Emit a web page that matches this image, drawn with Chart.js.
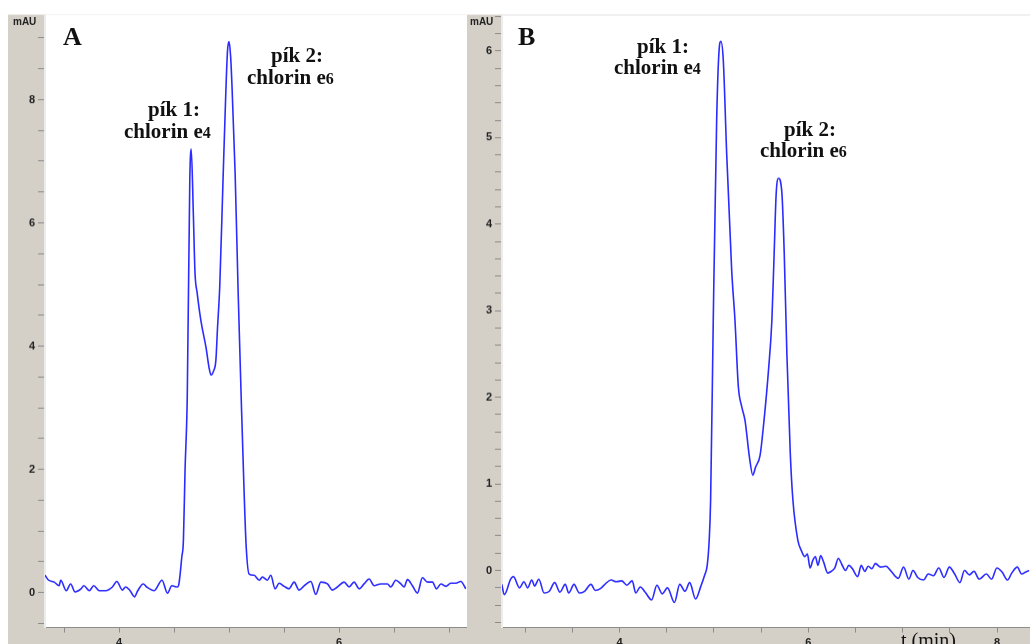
<!DOCTYPE html>
<html lang="cs">
<head>
  <meta charset="UTF-8" />
  <title>Chlorin e4 / e6 – chromatogramy</title>
  <script src="https://cdn.jsdelivr.net/npm/chart.js"></script>
  <style>
    body {
      margin: 0;
      background: #fff;
      width: 1030px;
      height: 644px;
      overflow: hidden;
      position: relative;
    }
    .panel { position: absolute; }
    .unit {
      position: absolute;
      font: bold 10px/10px "Liberation Sans", Arial, sans-serif;
      color: #222;
    }
    .letter {
      position: absolute;
      font: bold 26px/26px "Liberation Serif", serif;
      color: #111;
    }
    .note {
      position: absolute;
      font: bold 21px/22px "Liberation Serif", serif;
      color: #111;
      white-space: nowrap;
    }
    .note small { font-size: 16px; }
    .axis-title {
      position: absolute;
      font: 20px/20px "Liberation Serif", serif;
      color: #111;
      white-space: nowrap;
    }
  </style>
</head>
<body>
  <!-- panel A -->
  <div class="panel" id="wrapA" style="left:8px; top:15px; width:459px; height:629px;">
    <canvas id="chartA"></canvas>
  </div>
  <!-- panel B -->
  <div class="panel" id="wrapB" style="left:467px; top:15px; width:563px; height:629px;">
    <canvas id="chartB"></canvas>
  </div>

  <div class="unit" style="left:13px; top:17px;">mAU</div>
  <div class="unit" style="left:470px; top:17px;">mAU</div>

  <div class="letter" style="left:63px; top:24px;">A</div>
  <div class="letter" style="left:518px; top:24px;">B</div>

  <div class="note" style="left:148px; top:98px;">pík 1:</div>
  <div class="note" style="left:124px; top:120px;">chlorin e<small>4</small></div>
  <div class="note" style="left:271px; top:44px;">pík 2:</div>
  <div class="note" style="left:247px; top:66px;">chlorin e<small>6</small></div>

  <div class="note" style="left:637px; top:35px;">pík 1:</div>
  <div class="note" style="left:614px; top:56px;">chlorin e<small>4</small></div>
  <div class="note" style="left:784px; top:118px;">pík 2:</div>
  <div class="note" style="left:760px; top:139px;">chlorin e<small>6</small></div>

  <div class="axis-title" style="left:901px; top:630px;">t (min)</div>

<script>
  // Panel A: retention time (min) and absorbance (mAU)
  const timeA = [
    3.327, 3.36, 3.41, 3.455, 3.47, 3.52, 3.56, 3.6, 3.655, 3.68,
    3.73, 3.77, 3.82, 3.88, 3.94, 3.98, 4.03, 4.06, 4.1, 4.14,
    4.17, 4.22, 4.25, 4.32, 4.39, 4.44, 4.48, 4.53,
    4.545, 4.57, 4.585, 4.6, 4.62, 4.643, 4.656, 4.675, 4.69, 4.71,
    4.745, 4.79, 4.818, 4.836, 4.86, 4.88, 4.895, 4.915, 4.945, 4.97,
    4.986, 5.0, 5.014, 5.027, 5.055, 5.082, 5.11, 5.136, 5.155,
    5.182, 5.227, 5.273, 5.303, 5.348, 5.379, 5.418, 5.455, 5.5, 5.545,
    5.591, 5.636, 5.682, 5.743, 5.788, 5.834, 5.894, 5.939, 5.985, 6.045,
    6.091, 6.136, 6.182, 6.227, 6.273, 6.318, 6.379, 6.439, 6.47, 6.515,
    6.561, 6.591, 6.621, 6.666, 6.712, 6.757, 6.803, 6.848, 6.885, 6.925,
    6.97, 7.015, 7.061, 7.106, 7.152
  ];
  const signalA = [
    0.28, 0.20, 0.17, 0.11, 0.20, 0.03, 0.14, 0.01, 0.06, 0.11,
    0.03, 0.11, 0.03, 0.03, 0.09, 0.18, 0.04, 0.09, 0.03, -0.07,
    0.03, 0.14, 0.09, 0.03, 0.20, -0.01, 0.11, 0.09,
    0.15, 0.57, 0.85, 2.0, 3.18, 6.7, 7.2, 6.16, 5.2, 4.86,
    4.4, 3.98, 3.65, 3.53, 3.6, 3.77, 4.3, 4.96, 6.7, 8.1,
    8.8, 8.94, 8.7, 8.2, 6.8, 4.9, 3.17, 1.66, 0.76,
    0.30, 0.28, 0.20, 0.25, 0.20, 0.28, 0.06, 0.15, 0.10, 0.06,
    0.17, 0.04, 0.11, 0.18, -0.03, 0.17, 0.14, 0.04, 0.09, 0.17,
    0.09, 0.17, 0.06, 0.14, 0.22, 0.11, 0.14, 0.14, 0.09, 0.20,
    0.14, 0.09, 0.21, 0.11, -0.01, 0.24, 0.17, 0.17, 0.06, 0.14,
    0.10, 0.15, 0.15, 0.18, 0.06
  ];

  // Panel B
  const timeB = [
    2.753, 2.779, 2.847, 2.876, 2.94, 2.988, 3.026, 3.071, 3.1, 3.145,
    3.201, 3.257, 3.313, 3.369, 3.425, 3.462, 3.518, 3.574, 3.63, 3.698,
    3.742, 3.798, 3.854, 3.91, 3.966, 4.022, 4.078, 4.134, 4.172, 4.22,
    4.272, 4.34, 4.396, 4.452, 4.508, 4.582, 4.638, 4.694, 4.743, 4.806,
    4.862, 4.9, 4.929, 4.95,
    4.965, 4.993, 5.029, 5.053, 5.074, 5.099, 5.135, 5.188, 5.223, 5.259,
    5.295, 5.33, 5.376, 5.412, 5.44, 5.489, 5.524, 5.578, 5.614, 5.638,
    5.66, 5.684, 5.72, 5.745, 5.773, 5.809, 5.837,
    5.889, 5.926, 5.963, 5.99, 6.019, 6.049, 6.075, 6.102, 6.131, 6.161,
    6.206, 6.243, 6.281, 6.318, 6.355, 6.393, 6.43, 6.467, 6.523, 6.561,
    6.598, 6.635, 6.673, 6.71, 6.766, 6.822, 6.878, 6.953, 7.009, 7.065,
    7.109, 7.158, 7.221, 7.27, 7.326, 7.382, 7.438, 7.494, 7.55, 7.606,
    7.654, 7.707, 7.755, 7.811, 7.886, 7.942, 7.998, 8.054, 8.11, 8.155,
    8.214, 8.259, 8.315, 8.364
  ];
  const signalB = [
    -0.16, -0.28, -0.10, -0.07, -0.20, -0.13, -0.20, -0.11, -0.18, -0.10,
    -0.26, -0.24, -0.14, -0.25, -0.16, -0.26, -0.16, -0.26, -0.24, -0.16,
    -0.23, -0.21, -0.15, -0.11, -0.13, -0.12, -0.17, -0.12, -0.26, -0.19,
    -0.25, -0.34, -0.17, -0.27, -0.20, -0.37, -0.16, -0.24, -0.14, -0.33,
    -0.18, -0.06, 0.06, 0.35,
    0.81, 2.89, 5.2, 5.98, 6.11, 5.9, 4.82, 3.47, 2.89, 2.12,
    1.89, 1.73, 1.31, 1.10, 1.19, 1.33, 1.66, 2.31, 2.89, 3.66,
    4.36, 4.53, 4.36, 3.66, 2.5, 1.35, 0.81,
    0.35, 0.23, 0.16, 0.19, 0.03, 0.12, 0.16, 0.06, 0.17, 0.10,
    -0.03, -0.01, 0.03, 0.14, 0.07, 0.00, 0.06, 0.02, -0.07, 0.06,
    -0.01, 0.05, 0.02, 0.08, 0.04, 0.05, -0.01, -0.09, 0.04, -0.10,
    0.00, -0.08, -0.11, -0.04, -0.06, 0.03, -0.08, 0.04, -0.04, -0.14,
    0.00, -0.05, -0.01, -0.10, -0.04, -0.10, 0.03, -0.02, -0.11, -0.03,
    0.04, -0.04, -0.01, 0.00
  ];

  // Axis ranges and tick steps
  const xRangeA = [3.327, 7.155];
  const yRangeA = [-0.57, 9.38];
  const xRangeB = [2.755, 8.34];
  const yRangeB = [-0.66, 6.42];
  const xStep = 0.5, xLabelEvery = 2;
  const yStepA = 0.5, yLabelEveryA = 2;
  const yStepB = 0.2, yLabelEveryB = 1;

  const PLOT_TOP = 15;
  const PANEL_HEIGHT = 629;
  const tickFont = { family: '"Liberation Sans", Arial, sans-serif', size: 11, weight: 'bold' };

  // only every n-th unit gets a label, the other ticks stay bare
  function labelEvery(n) {
    return v => {
      const k = v / n;
      return Math.abs(k - Math.round(k)) < 1e-6 ? String(Math.round(v)) : '';
    };
  }

  // gray instrument frame + white plot area (runs to the canvas edge)
  const panelBg = {
    id: 'panelBg',
    beforeDraw(chart, args, opts) {
      const { ctx, chartArea: a, width, height } = chart;
      ctx.save();
      ctx.fillStyle = '#d4d0c8';
      ctx.fillRect(0, a.top, width, height - a.top);
      ctx.fillStyle = '#ffffff';
      ctx.fillRect(a.left, a.top, width - a.left, a.bottom - a.top);
      if (opts.topLine) {
        ctx.fillStyle = '#e8e8e8';
        ctx.fillRect(a.left, a.top, width - a.left, 1);
      }
      ctx.restore();
    }
  };

  function makeChart(canvasId, time, signal, cfg) {
    const points = time.map((t, i) => ({ x: t, y: signal[i] }));
    return new Chart(document.getElementById(canvasId), {
      type: 'line',
      data: {
        datasets: [{
          data: points,
          borderColor: '#2b2bff',
          borderWidth: 1.6,
          pointRadius: 0,
          cubicInterpolationMode: 'monotone',
          fill: false
        }]
      },
      options: {
        responsive: true,
        maintainAspectRatio: false,
        animation: false,
        layout: { padding: 0 },
        plugins: {
          legend: { display: false },
          tooltip: { enabled: false },
          panelBg: { topLine: cfg.topLine }
        },
        scales: {
          x: {
            type: 'linear',
            min: cfg.xRange[0],
            max: cfg.xRange[1],
            afterFit: s => { s.height = 17; },
            ticks: {
              stepSize: xStep,
              includeBounds: false,
              autoSkip: false,
              maxRotation: 0,
              padding: 4,
              color: '#222',
              font: tickFont,
              callback: labelEvery(xLabelEvery)
            },
            grid: { drawOnChartArea: false, drawTicks: true, tickLength: 5, tickColor: '#8c8c8c' },
            border: { display: true, color: '#8c8c8c', width: 1 }
          },
          y: {
            min: cfg.yRange[0],
            max: cfg.yRange[1],
            afterFit: s => { s.width = cfg.axisWidth; },
            ticks: {
              stepSize: cfg.yStep,
              includeBounds: false,
              autoSkip: false,
              padding: 3,
              color: '#222',
              font: tickFont,
              callback: labelEvery(cfg.yLabelEvery)
            },
            grid: { drawOnChartArea: false, drawTicks: true, tickLength: 7, tickColor: '#8c8c8c' },
            border: { display: true, color: '#ececec', width: 2 }
          }
        }
      },
      plugins: [panelBg]
    });
  }

  // shift the canvas so that the plot area starts exactly at PLOT_TOP
  function alignPlotTop(chart, wrap) {
    const pad = chart.chartArea.top;
    wrap.style.top = (PLOT_TOP - pad) + 'px';
    wrap.style.height = (PANEL_HEIGHT + pad) + 'px';
    chart.resize();
  }

  const chartA = makeChart('chartA', timeA, signalA, {
    xRange: xRangeA, yRange: yRangeA, yStep: yStepA, yLabelEvery: yLabelEveryA,
    axisWidth: 37, topLine: false
  });
  const chartB = makeChart('chartB', timeB, signalB, {
    xRange: xRangeB, yRange: yRangeB, yStep: yStepB, yLabelEvery: yLabelEveryB,
    axisWidth: 35, topLine: true
  });

  alignPlotTop(chartA, document.getElementById('wrapA'));
  alignPlotTop(chartB, document.getElementById('wrapB'));
</script>
</body>
</html>
